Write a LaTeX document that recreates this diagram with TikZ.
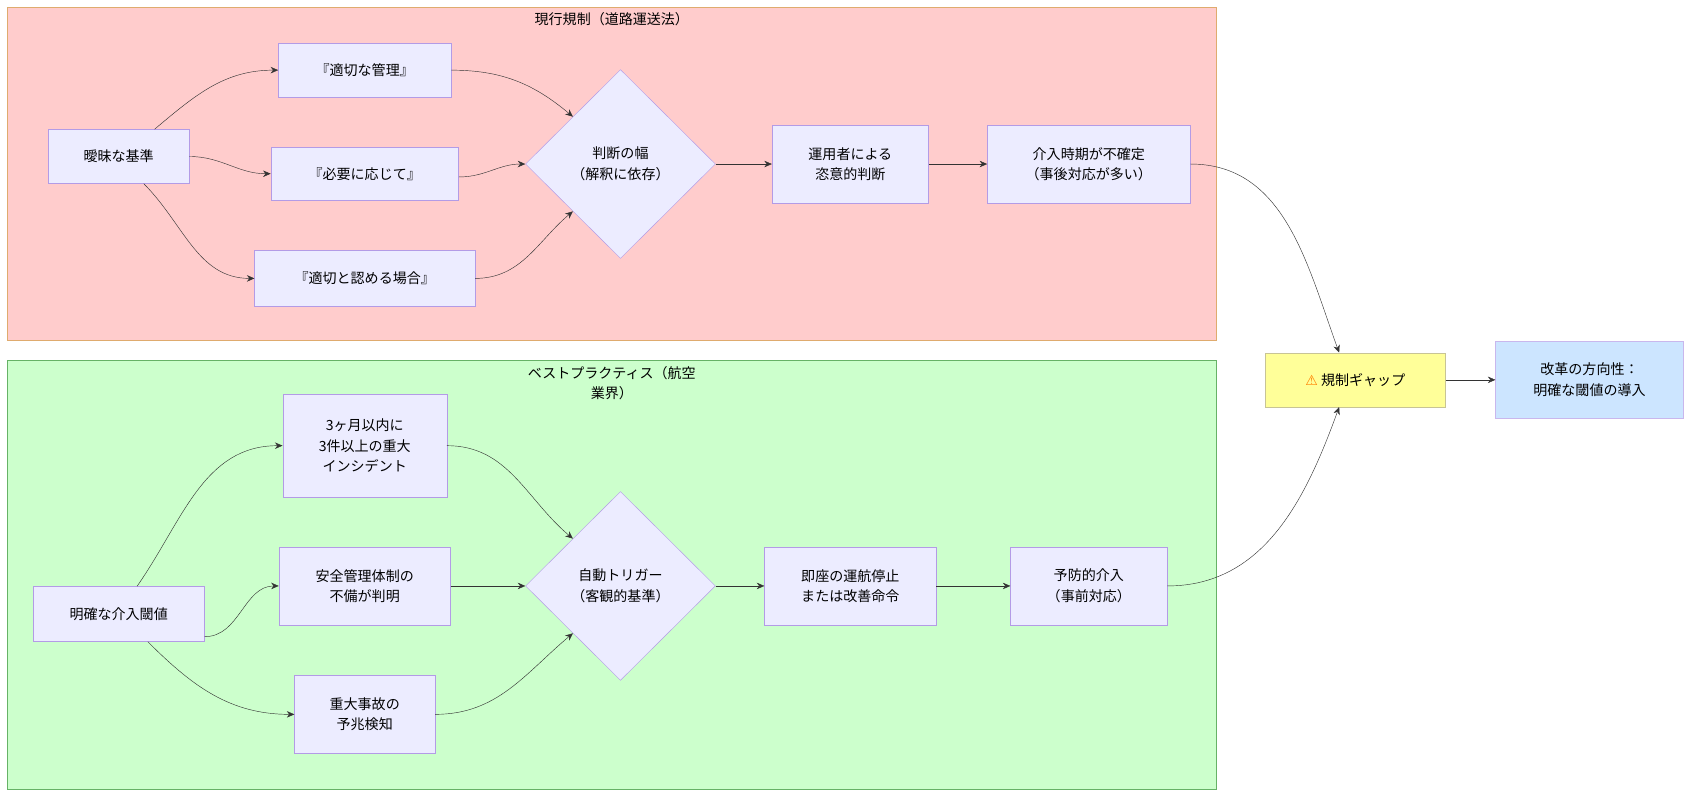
\documentclass[tikz,border=0pt]{standalone}
\usepackage{fontspec}
\setmainfont{Noto Sans CJK JP}
\newfontfamily\symfont{DejaVu Sans}
\usetikzlibrary{shapes.geometric,arrows.meta}
\definecolor{nodefill}{HTML}{ECECFF}
\definecolor{nodeline}{HTML}{9370DB}
\definecolor{gapfill}{HTML}{FFFF99}
\definecolor{goalfill}{HTML}{CCE5FF}
\begin{document}
\begin{tikzpicture}[x=1pt,y=-1pt,font=\fontsize{13}{19}\selectfont]
  \tikzstyle{stage}=[rectangle,draw=nodeline!70,fill=nodefill,align=center,inner sep=0pt]
  \tikzstyle{check}=[diamond,draw=nodeline!70,fill=nodefill,align=center,inner sep=0pt,minimum width=176pt,minimum height=175pt]
  \tikzstyle{edge}=[draw,-{Stealth[length=7pt,width=6pt]},color=black!80]
  \useasboundingbox (0,0) rectangle (1568,737);
  % clusters
  \draw[draw=black!35!yellow!60!red!60,fill=red!20] (7,7) rectangle (1127,315);
  \node (t1) at (567,18) {現行規制（道路運送法）};
  \draw[draw=green!50!black!60,fill=green!20] (7,334) rectangle (1127,731);
  \node[align=center] (t2) at (567,355) {ベストプラクティス（航空\\業界）};
  % current regulation
  \node [stage,minimum width=130pt,minimum height=50pt] (a) at (110,145) {曖昧な基準};
  \node [stage,minimum width=160pt,minimum height=50pt] (b) at (338,65) {『適切な管理』};
  \node [stage,minimum width=174pt,minimum height=50pt] (c) at (338,161) {『必要に応じて』};
  \node [stage,minimum width=204pt,minimum height=52pt] (d) at (338,258) {『適切と認める場合』};
  \node [check] (e) at (575,152) {判断の幅\\（解釈に依存）};
  \node [stage,minimum width=145pt,minimum height=72pt] (f) at (788,152) {運用者による\\恣意的判断};
  \node [stage,minimum width=188pt,minimum height=72pt] (g) at (1009,152) {介入時期が不確定\\（事後対応が多い）};
  % best practice
  \node [stage,minimum width=159pt,minimum height=51pt] (h) at (110,569) {明確な介入閾値};
  \node [stage,minimum width=152pt,minimum height=95pt] (i) at (338,413) {3ヶ月以内に\\3件以上の重大\\インシデント};
  \node [stage,minimum width=159pt,minimum height=72pt] (j) at (338,543) {安全管理体制の\\不備が判明};
  \node [stage,minimum width=130pt,minimum height=72pt] (k) at (338,662) {重大事故の\\予兆検知};
  \node [check] (l) at (575,543) {自動トリガー\\（客観的基準）};
  \node [stage,minimum width=159pt,minimum height=72pt] (m) at (788,543) {即座の運航停止\\または改善命令};
  \node [stage,minimum width=145pt,minimum height=72pt] (n) at (1009,543) {予防的介入\\（事前対応）};
  % result
  \node [stage,draw=yellow!50!black!50,fill=gapfill,minimum width=167pt,minimum height=50pt] (gap) at (1256,352) {{\symfont\color{orange}⚠}\ 規制ギャップ};
  \node [stage,draw=nodeline!50,fill=goalfill,minimum width=174pt,minimum height=72pt] (goal) at (1473,352) {改革の方向性：\\明確な閾値の導入};
  \path[edge] ([xshift=-32pt]a.north east) to[out=40,in=180] (b.west);
  \path[edge] (a.east) to[out=0,in=180] (c.west);
  \path[edge] ([xshift=-42pt]a.south east) to[out=-45,in=180] (d.west);
  \path[edge] (b.east) to[out=0,in=140] (e.north west);
  \path[edge] ([yshift=-3pt]c.east) to[out=0,in=180] (e.west);
  \path[edge] (d.east) to[out=0,in=220] (e.south west);
  \path[edge] (e) -- (f);
  \path[edge] (f) -- (g);
  \path[edge] (g.east) to[out=0,in=110] ([xshift=-15pt]gap.north);
  \path[edge] ([xshift=17pt]h.north) to[out=55,in=180] (i.west);
  \path[edge] ([yshift=-21pt]h.east) to[out=0,in=180] (j.west);
  \path[edge] ([xshift=27pt]h.south) to[out=-45,in=180] (k.west);
  \path[edge] (i.east) to[out=0,in=140] (l.north west);
  \path[edge] (j) -- (l);
  \path[edge] (k.east) to[out=0,in=220] (l.south west);
  \path[edge] (l) -- (m);
  \path[edge] (m) -- (n);
  \path[edge] (n.east) to[out=0,in=250] ([xshift=-15pt]gap.south);
  \path[edge] (gap) -- (goal);
\end{tikzpicture}
\end{document}
